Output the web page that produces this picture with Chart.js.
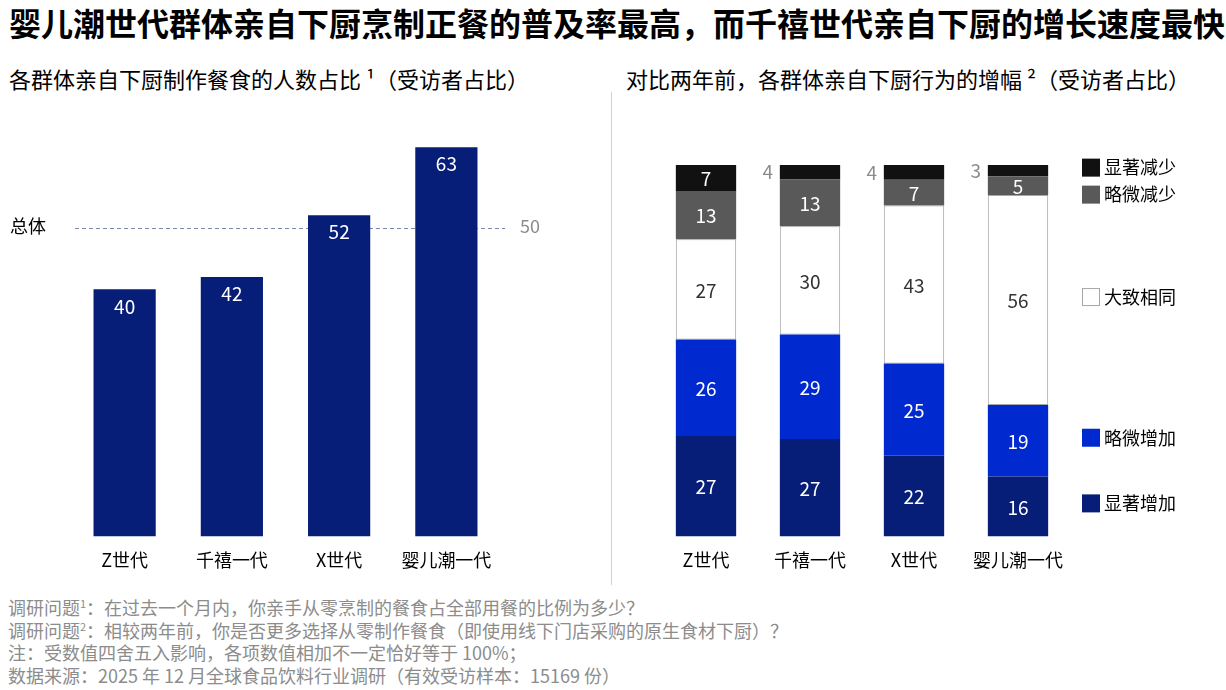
<!DOCTYPE html>
<html>
<head>
<meta charset="utf-8">
<script src="https://cdn.jsdelivr.net/npm/chart.js@4.4.1/dist/chart.umd.min.js"></script>
<style>
  body { margin: 0; width: 1226px; height: 690px; position: relative; background: #fff; font-family: "Noto Sans CJK SC", sans-serif; overflow: hidden; }
  .title { position: absolute; left: 9px; top: 2px; font-size: 32px; font-weight: bold; color: #000; white-space: nowrap; line-height: 40px; }
  .sub { position: absolute; top: 62px; font-size: 22px; color: #000; white-space: nowrap; line-height: 32px; }
  .divider { position: absolute; left: 611px; top: 92px; width: 1px; height: 493px; background: #d0d0d0; }
  .notes { position: absolute; left: 8px; top: 596px; font-size: 18px; color: #8c8c8c; line-height: 22.5px; white-space: nowrap; }
  .notes sup { font-size: 11px; vertical-align: 7px; line-height: 0; }
  canvas { position: absolute; }
</style>
</head>
<body>
<div class="title">婴儿潮世代群体亲自下厨烹制正餐的普及率最高，而千禧世代亲自下厨的增长速度最快</div>
<div class="sub" style="left:9px">各群体亲自下厨制作餐食的人数占比 ¹（受访者占比）</div>
<div class="sub" style="left:626px">对比两年前，各群体亲自下厨行为的增幅 ²（受访者占比）</div>
<div class="divider"></div>
<canvas id="leftChart" width="611" height="490" style="left:0;top:95px"></canvas>
<canvas id="rightChart" width="614" height="490" style="left:612px;top:95px"></canvas>
<div class="notes">
  调研问题<sup>1</sup>：在过去一个月内，你亲手从零烹制的餐食占全部用餐的比例为多少？<br>
  调研问题<sup>2</sup>：相较两年前，你是否更多选择从零制作餐食（即使用线下门店采购的原生食材下厨）？<br>
  注：受数值四舍五入影响，各项数值相加不一定恰好等于 100%；<br>
  数据来源：2025 年 12 月全球食品饮料行业调研（有效受访样本：15169 份）
</div>
<script>
const groups = ['Z世代', '千禧一代', 'X世代', '婴儿潮一代'];
const cookShare = [40, 42, 52, 63];
const overallValue = 50;

const changeLabels = ['显著增加', '略微增加', '大致相同', '略微减少', '显著减少'];
const muchMore = [27, 27, 22, 16];
const slightlyMore = [26, 29, 25, 19];
const aboutSame = [27, 30, 43, 56];
const slightlyLess = [13, 13, 7, 5];
const muchLess = [7, 4, 4, 3];

const navy = '#071e78';
const blue = '#0029cf';
const FONT = '"Noto Sans CJK SC", sans-serif';

// left chart: overall dashed line + value labels
const leftExtras = {
  id: 'leftExtras',
  beforeDatasetsDraw(chart) {
    const { ctx, scales: { y } } = chart;
    const py = Math.round(y.getPixelForValue(overallValue)) + 0.5;
    ctx.save();
    ctx.strokeStyle = '#7d8aa6';
    ctx.lineWidth = 1;
    ctx.setLineDash([4, 3]);
    ctx.beginPath();
    ctx.moveTo(75, py);
    ctx.lineTo(505, py);
    ctx.stroke();
    ctx.setLineDash([]);
    ctx.font = '18px ' + FONT;
    ctx.textBaseline = 'middle';
    ctx.textAlign = 'left';
    ctx.fillStyle = '#000';
    ctx.fillText('总体', 10, py - 2);
    ctx.fillStyle = '#8c8c8c';
    ctx.fillText(String(overallValue), 520, py - 2);
    ctx.restore();
  },
  afterDatasetsDraw(chart) {
    const { ctx } = chart;
    ctx.save();
    ctx.font = '19px ' + FONT;
    ctx.fillStyle = '#fff';
    ctx.textAlign = 'center';
    ctx.textBaseline = 'middle';
    chart.getDatasetMeta(0).data.forEach((bar, i) => {
      ctx.fillText(String(cookShare[i]), bar.x, bar.y + 17);
    });
    ctx.restore();
  }
};

new Chart(document.getElementById('leftChart'), {
  type: 'bar',
  data: {
    labels: groups,
    datasets: [{ data: cookShare, backgroundColor: navy, categoryPercentage: 1, barPercentage: 0.58 }]
  },
  options: {
    responsive: false,
    animation: false,
    layout: { padding: { left: 71, right: 111, top: 9, bottom: 1 } },
    plugins: { legend: { display: false }, tooltip: { enabled: false } },
    scales: {
      x: {
        grid: { display: false, drawTicks: false },
        border: { display: false },
        ticks: { color: '#000', font: { size: 18, family: FONT }, padding: 13 }
      },
      y: { display: false, min: 0, max: 70 }
    }
  },
  plugins: [leftExtras]
});

// right chart: each bar drawn as share of its own total
const rawSeries = [muchMore, slightlyMore, aboutSame, slightlyLess, muchLess];
const totals = groups.map((g, i) => rawSeries.reduce((s, arr) => s + arr[i], 0));
const segColors = [navy, blue, '#ffffff', '#595959', '#111111'];
const textColors = ['#fff', '#fff', '#333', '#fff', '#fff'];

const rightExtras = {
  id: 'rightExtras',
  afterDatasetsDraw(chart) {
    const { ctx } = chart;
    ctx.save();
    ctx.font = '19px ' + FONT;
    ctx.textBaseline = 'middle';
    rawSeries.forEach((arr, d) => {
      chart.getDatasetMeta(d).data.forEach((bar, i) => {
        const v = arr[i];
        const mid = (bar.y + bar.base) / 2;
        ctx.textAlign = 'center';
        if (d === 4 && v < 5) {
          ctx.fillStyle = '#8c8c8c';
          ctx.fillText(String(v), bar.x - bar.width / 2 - 12, mid);
        } else {
          ctx.fillStyle = textColors[d];
          ctx.fillText(String(v), bar.x, mid + 1);
        }
      });
    });
    // legend beside the last bar
    const last = groups.length - 1;
    let prev = -Infinity;
    const ys = [];
    for (let d = rawSeries.length - 1; d >= 0; d--) {
      const bar = chart.getDatasetMeta(d).data[last];
      let yy = (bar.y + bar.base) / 2 - 3;
      if (yy < prev + 27) yy = prev + 27;
      ys[d] = yy;
      prev = yy;
    }
    ctx.font = '18px ' + FONT;
    ctx.textAlign = 'left';
    rawSeries.forEach((arr, d) => {
      const yy = ys[d];
      ctx.fillStyle = segColors[d];
      ctx.fillRect(470, yy - 9, 18, 18);
      if (d === 2) {
        ctx.strokeStyle = '#a6a6a6';
        ctx.lineWidth = 1;
        ctx.strokeRect(470.5, yy - 8.5, 17, 17);
      }
      ctx.fillStyle = '#000';
      ctx.fillText(changeLabels[d], 492, yy);
    });
    ctx.restore();
  }
};

new Chart(document.getElementById('rightChart'), {
  type: 'bar',
  data: {
    labels: groups,
    datasets: rawSeries.map((arr, d) => ({
      label: changeLabels[d],
      data: arr.map((v, i) => v / totals[i] * 100),
      backgroundColor: segColors[d],
      borderColor: d === 2 ? '#a6a6a6' : segColors[d],
      borderWidth: d === 2 ? 1 : 0,
      borderSkipped: false,
      categoryPercentage: 1,
      barPercentage: 0.58
    }))
  },
  options: {
    responsive: false,
    animation: false,
    layout: { padding: { left: 42, right: 156, top: 70, bottom: 1 } },
    plugins: { legend: { display: false }, tooltip: { enabled: false } },
    scales: {
      x: {
        stacked: true,
        grid: { display: false, drawTicks: false },
        border: { display: false },
        ticks: { color: '#000', font: { size: 18, family: FONT }, padding: 13 }
      },
      y: { display: false, stacked: true, min: 0, max: 100 }
    }
  },
  plugins: [rightExtras]
});
</script>
</body>
</html>
